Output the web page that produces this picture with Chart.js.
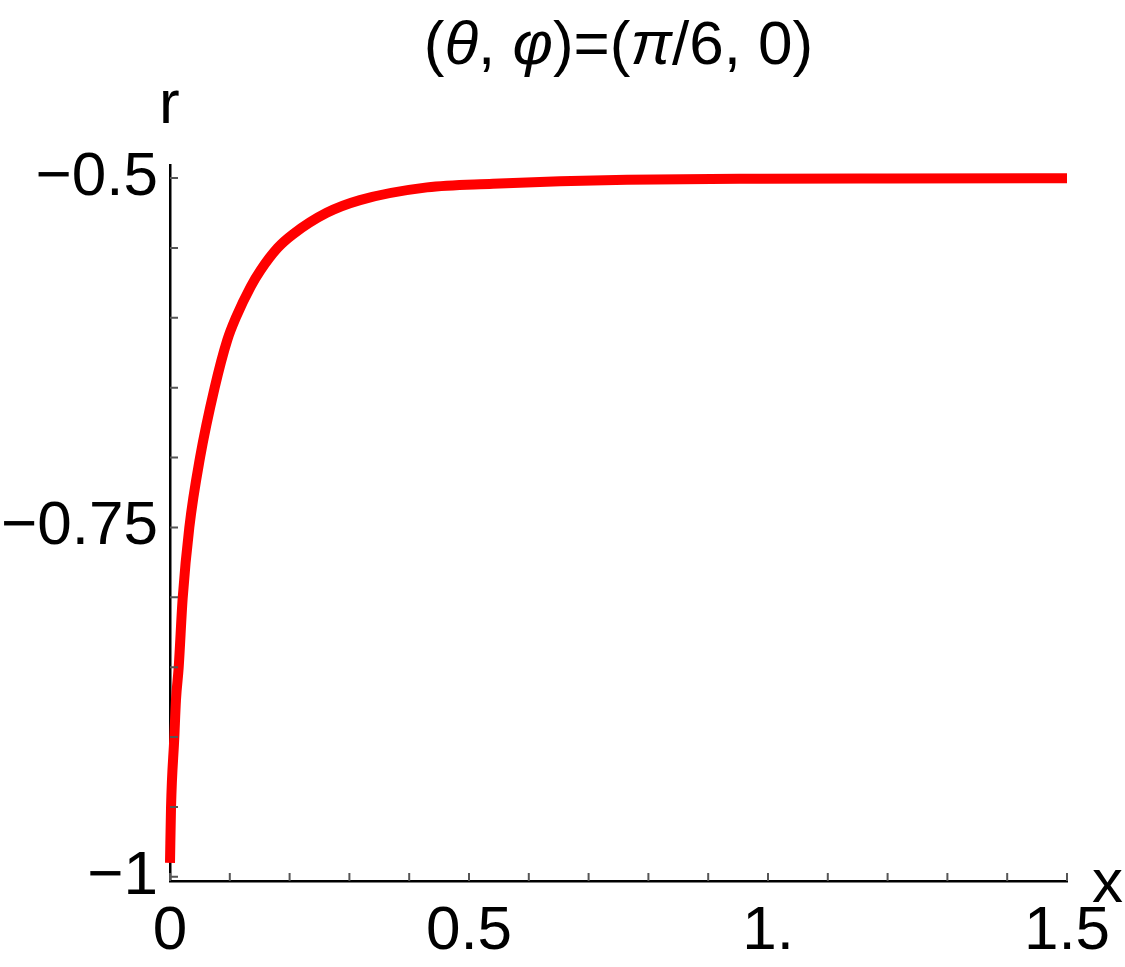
<!DOCTYPE html>
<html lang="en">
<head>
  <meta charset="UTF-8">
  <title>(θ, φ)=(π/6, 0)</title>
  <script src="https://cdn.jsdelivr.net/npm/chart.js"></script>
  <style>
    body {
      margin: 0;
      background: #fff;
    }
    .wrap {
      width: 1125px;
      height: 967px;
    }
  </style>
</head>
<body>

<div class="wrap">
  <canvas id="chart" width="1125" height="967"></canvas>
</div>

<script>
  // values
  const xValues = [0, 0.0017, 0.0072, 0.0100, 0.0145, 0.0212, 0.0323, 0.0502, 0.0747, 0.0958, 0.1099, 0.1349, 0.1517, 0.180, 0.2057, 0.262, 0.3177, 0.4298, 0.5401, 0.6522, 0.7642, 0.9866, 1.2, 1.5];
  const rValues = [-0.990, -0.9504, -0.9004, -0.8734, -0.8503, -0.8006, -0.7501, -0.7001, -0.6500, -0.6159, -0.6001, -0.5778, -0.5658, -0.5500, -0.5402, -0.5249, -0.5158, -0.5067, -0.5041, -0.5023, -0.5012, -0.5005, -0.5003, -0.5002];

  const xTicks = [0, 0.5, 1, 1.5];
  const xTickLabels = ['0', '0.5', '1.', '1.5'];
  const yTicks = [-1, -0.75, -0.5];
  const yTickLabels = ['\u22121', '\u22120.75', '\u22120.5'];

  // title pieces, true = italic
  const titleParts = [['(', false], ['θ', true], [', ', false], ['φ', true], [')=(', false], ['π', true], ['/6, 0)', false]];
  const xLabel = 'x';
  const yLabel = 'r';

  const font = "'Liberation Sans', Arial, sans-serif";
  const points = xValues.map((x, i) => ({ x: x, y: rValues[i] }));

  // title, small inward ticks and the axis names, mathematica style
  const frameExtras = {
    id: 'frameExtras',
    afterDatasetsDraw(chart) {
      const ctx = chart.ctx;
      const xs = chart.scales.x;
      const ys = chart.scales.y;
      const area = chart.chartArea;
      ctx.save();
      ctx.strokeStyle = '#555';
      ctx.lineWidth = 2;
      ctx.beginPath();
      for (let i = 0; i <= 15; i++) {
        const px = xs.getPixelForValue(i / 10);
        ctx.moveTo(px, area.bottom);
        ctx.lineTo(px, area.bottom - 8);
      }
      for (let i = 0; i <= 10; i++) {
        const py = ys.getPixelForValue(-1 + i * 0.05);
        ctx.moveTo(area.left, py);
        ctx.lineTo(area.left + 8, py);
      }
      ctx.stroke();

      ctx.fillStyle = '#000';
      ctx.textBaseline = 'alphabetic';
      ctx.textAlign = 'left';
      ctx.font = '62px ' + font;
      ctx.fillText(yLabel, 159, 123);
      ctx.fillText(xLabel, 1092, 902);

      // title centred over the plot
      const widths = titleParts.map(([t, it]) => {
        ctx.font = (it ? 'italic ' : '') + '62px ' + font;
        return ctx.measureText(t).width;
      });
      const total = widths.reduce((a, b) => a + b, 0);
      let tx = (area.left + area.right) / 2 - total / 2;
      titleParts.forEach(([t, it], i) => {
        ctx.font = (it ? 'italic ' : '') + '62px ' + font;
        ctx.fillText(t, tx, 64);
        tx += widths[i];
      });
      ctx.restore();
    }
  };

  new Chart(document.getElementById('chart'), {
    type: 'scatter',
    data: {
      datasets: [{
        data: points,
        showLine: true,
        borderColor: '#ff0000',
        borderWidth: 10,
        borderCapStyle: 'butt',
        borderJoinStyle: 'round',
        cubicInterpolationMode: 'monotone',
        pointRadius: 0,
        clip: 12
      }]
    },
    options: {
      responsive: false,
      animation: false,
      events: [],
      layout: { padding: { left: 0, right: 58, top: 165, bottom: 0 } },
      plugins: {
        legend: { display: false },
        tooltip: { enabled: false },
        title: { display: false }
      },
      scales: {
        x: {
          type: 'linear',
          min: 0,
          max: 1.5,
          afterFit(s) { s.height = 86; },
          afterBuildTicks(s) { s.ticks = xTicks.map(v => ({ value: v })); },
          grid: { display: false, drawTicks: false },
          border: { display: true, color: '#000', width: 2.5 },
          ticks: {
            color: '#000',
            padding: 14,
            maxRotation: 0,
            autoSkip: false,
            font: { family: font, size: 62 },
            callback: (v) => xTickLabels[xTicks.indexOf(v)]
          }
        },
        y: {
          type: 'linear',
          min: -1.003,
          max: -0.4907,
          afterFit(s) { s.width = 170; },
          afterBuildTicks(s) { s.ticks = yTicks.map(v => ({ value: v })); },
          grid: { display: false, drawTicks: false },
          border: { display: true, color: '#000', width: 2.5 },
          ticks: {
            color: '#000',
            padding: 12,
            autoSkip: false,
            font: { family: font, size: 62 },
            callback: (v) => yTickLabels[yTicks.indexOf(v)]
          }
        }
      }
    },
    plugins: [frameExtras]
  });
</script>
</body>
</html>
